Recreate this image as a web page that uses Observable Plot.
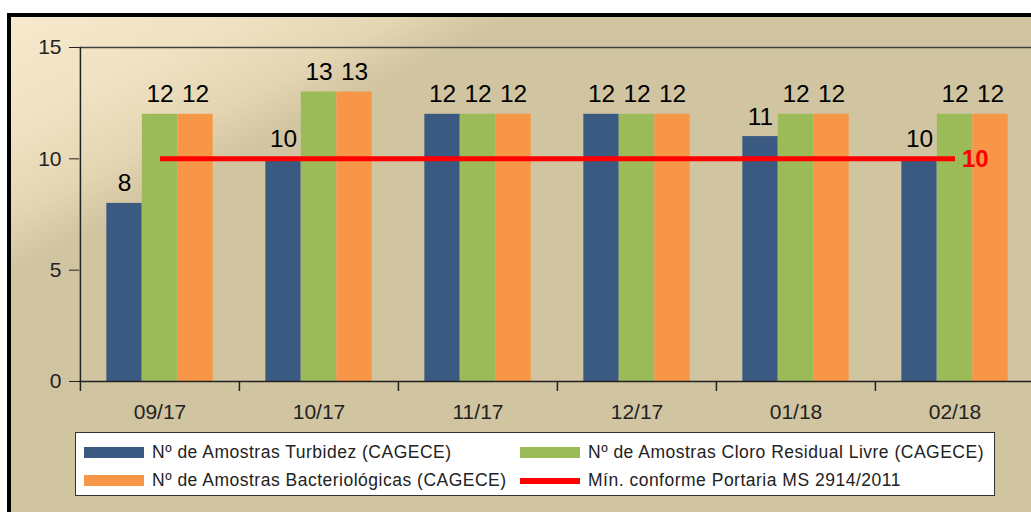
<!DOCTYPE html>
<html><head><meta charset="utf-8">
<script src="https://cdn.jsdelivr.net/npm/d3@7"></script>
<script src="https://cdn.jsdelivr.net/npm/@observablehq/plot@0.6"></script>
<style>
html,body{margin:0;padding:0;background:#fff;}
#wrap{position:relative;width:1031px;height:512px;overflow:hidden;font-family:"Liberation Sans",Arial,sans-serif;}
#bg{position:absolute;left:7px;top:13px;width:1100px;height:600px;border:4px solid #000;
  background:linear-gradient(153deg,#F7E9CC 0%,#F0E1C2 10%,#E4D5B3 17%,#D1C4A1 22%,#D1C4A1 100%);}
#chart{position:absolute;left:0;top:0;}
#legend{position:absolute;left:75px;top:432px;width:920px;height:64px;background:#fff;border:1px solid #333;box-sizing:border-box;}
.item{position:absolute;display:flex;align-items:center;font-size:17.5px;letter-spacing:0.5px;color:#222;white-space:nowrap;}
.sw{display:inline-block;width:60px;height:11px;margin-right:8px;}
</style>
</head><body>
<div id="wrap">
  <div id="bg"></div>
  <div id="chart"></div>
  <div id="legend"></div>
</div>
<script>
const months = ["09/17","10/17","11/17","12/17","01/18","02/18"];
const turbidez = [8,10,12,12,11,10];
const cloro = [12,13,12,12,12,12];
const bacterio = [12,13,12,12,12,12];
const minimo = [10,10,10,10,10,10];
const seriesNames = [
  "Nº de Amostras Turbidez (CAGECE)",
  "Nº de Amostras Cloro Residual Livre (CAGECE)",
  "Nº de Amostras Bacteriológicas (CAGECE)",
  "Mín. conforme Portaria MS 2914/2011"
];
const colors = ["#3B5A82","#9BBB59","#F79646","#FF0000"];
const yTicks = [0,5,10,15];

const W = 1031, H = 430;
const pLeft = 79, pRight = 1034, pTop = 47, pBottom = 381;
const step = (pRight - pLeft) / months.length;
const barW = 35.5;
const inset = (step - barW) / 2;
const tickLen = 10 / ((pBottom - pTop) / 15);

function rows(vals){ return months.map((m,i)=>({month:m, value:vals[i]})); }

function group(vals, color, dx){
  const d = rows(vals);
  return [
    Plot.barY(d, {x:"month", y:"value", fill:color, insetLeft:inset, insetRight:inset, dx}),
    Plot.text(d, {x:"month", y:"value", text:r=>String(r.value), dx, dy:-12, lineAnchor:"bottom", fontSize:24.5, fill:"#000"})
  ];
}
const minRows = rows(minimo);

const chart = Plot.plot({
  width: W, height: H,
  marginLeft: pLeft, marginRight: 0, marginTop: pTop, marginBottom: H - pBottom,
  style: {background:"transparent", fontFamily:"'Liberation Sans', Arial, sans-serif", color:"#222", overflow:"visible"},
  x: {domain: months, range:[pLeft, pRight], padding:0, type:"band"},
  y: {domain:[0,15], range:[pBottom, pTop]},
  marks: [
    ...group(turbidez, colors[0], -barW),
    ...group(cloro, colors[1], 0),
    ...group(bacterio, colors[2], barW),
    Plot.lineY(minRows, {x:"month", y:"value", stroke:colors[3], strokeWidth:5, strokeLinecap:"butt"}),
    Plot.text([minRows[minRows.length-1]], {x:"month", y:"value", text:r=>String(r.value), dx:7, textAnchor:"start", fontSize:24, fontWeight:"bold", fill:colors[3]}),
    Plot.ruleY([15], {stroke:"#404040", strokeWidth:1.5}),
    Plot.ruleY([0], {stroke:"#222", strokeWidth:1.5}),
    Plot.ruleX([months[0]], {dx:-step/2, y1:0, y2:15, stroke:"#222", strokeWidth:1.5}),
    Plot.ruleX(months, {x:d=>d, dx:-step/2, y1:0, y2:-tickLen, stroke:"#222", strokeWidth:1.5}),
    Plot.axisY({ticks:yTicks, tickSize:10, tickPadding:8, fontSize:21, label:null, stroke:"#222"}),
    Plot.axisX({tickSize:0, tickPadding:23, fontSize:21, label:null})
  ]
});
document.getElementById("chart").appendChild(chart);

const legend = document.getElementById("legend");
const pos = [[8,12],[444,12],[8,40],[444,40]];
const order = [0,1,2,3];
order.forEach((k,i)=>{
  const it = document.createElement("div");
  it.className = "item";
  it.style.left = pos[i][0] + "px";
  it.style.top = (pos[i][1]-3) + "px";
  const sw = document.createElement("span");
  sw.className = "sw";
  sw.style.background = colors[k];
  if (k === 3) sw.style.height = "6px";
  const tx = document.createElement("span");
  tx.textContent = seriesNames[k];
  it.appendChild(sw); it.appendChild(tx);
  legend.appendChild(it);
});
</script>
</body></html>
